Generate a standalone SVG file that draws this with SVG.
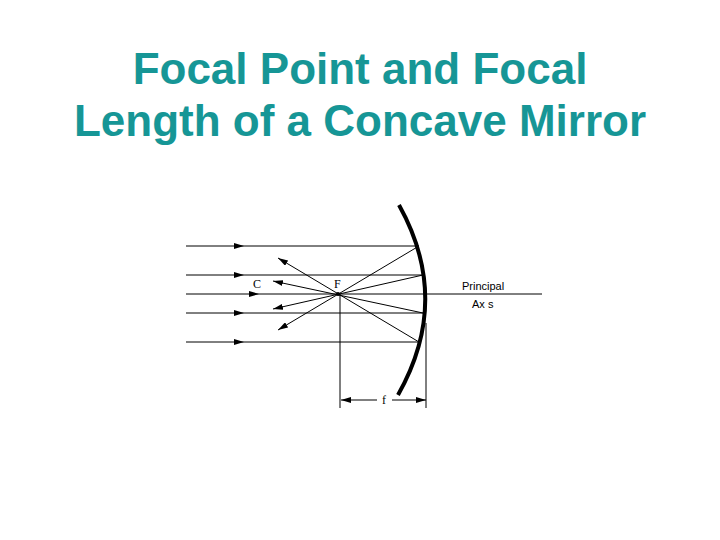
<svg xmlns="http://www.w3.org/2000/svg" width="720" height="540" viewBox="0 0 720 540">
<style>
.t{font-family:"Liberation Sans",Arial,sans-serif;font-size:44px;font-weight:bold;fill:#169696;text-anchor:middle}
.l{stroke:#000;stroke-width:1;fill:none}
.s{font-family:"Liberation Sans",Arial,sans-serif;font-size:11px;fill:#000}
.sr{font-family:"Liberation Serif",serif;font-size:12px;fill:#000}
</style>
<defs>
<marker id="a" viewBox="0 0 10 6" refX="10" refY="3" markerWidth="10" markerHeight="6" markerUnits="userSpaceOnUse" orient="auto"><path d="M0,0L10,3L0,6z" fill="#000"/></marker>
</defs>
<rect width="720" height="540" fill="#fff"/>
<text class="t" x="360" y="84">Focal Point and Focal</text>
<text class="t" x="360" y="136">Length of a Concave Mirror</text>
<g id="mirror"><path d="M399,205 Q452,300 398,395" stroke="#000" stroke-width="4" fill="none"/></g>
<g id="connectors">
<line class="l" x1="186" y1="246" x2="244" y2="246" marker-end="url(#a)"/><line class="l" x1="244" y1="246" x2="419" y2="246"/>
<line class="l" x1="186" y1="275" x2="244" y2="275" marker-end="url(#a)"/><line class="l" x1="244" y1="275" x2="423" y2="275"/>
<line class="l" x1="186" y1="294" x2="259" y2="294" marker-end="url(#a)"/><line class="l" x1="259" y1="294" x2="542" y2="294"/>
<line class="l" x1="186" y1="313" x2="244" y2="313" marker-end="url(#a)"/><line class="l" x1="244" y1="313" x2="423" y2="313"/>
<line class="l" x1="186" y1="342" x2="244" y2="342" marker-end="url(#a)"/><line class="l" x1="244" y1="342" x2="419" y2="342"/>
<line class="l" x1="419" y1="246" x2="278" y2="330" marker-end="url(#a)"/>
<line class="l" x1="423" y1="275" x2="273" y2="309" marker-end="url(#a)"/>
<line class="l" x1="423" y1="313" x2="273" y2="281" marker-end="url(#a)"/>
<line class="l" x1="419" y1="342" x2="278" y2="258" marker-end="url(#a)"/>
<line class="l" x1="340" y1="294" x2="340" y2="408"/>
<line class="l" x1="426" y1="323" x2="426" y2="408"/>
<line class="l" x1="377" y1="400" x2="341" y2="400" marker-end="url(#a)"/>
<line class="l" x1="392" y1="400" x2="426" y2="400" marker-end="url(#a)"/>
<circle cx="338" cy="294" r="2" fill="#000"/>
</g>
<text class="sr" x="253" y="288">C</text>
<text class="sr" x="334" y="288">F</text>
<text class="sr" x="382" y="404">f</text>
<text class="s" x="462" y="290">Principal</text>
<text class="s" x="472" y="308">Ax s</text>
</svg>
